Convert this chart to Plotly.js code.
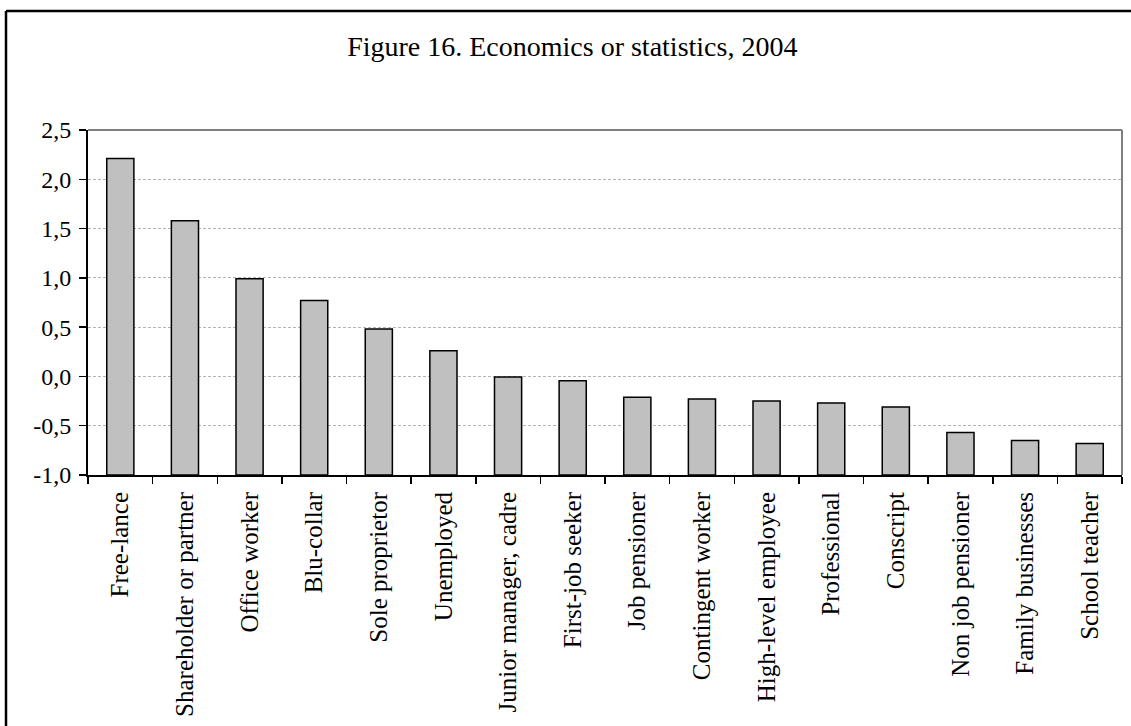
<!DOCTYPE html>
<html>
<head>
<meta charset="utf-8">
<script src="https://cdn.plot.ly/plotly-3.0.1.min.js"></script>
<style>
html, body { margin: 0; padding: 0; background: #ffffff; }
#chart { width: 1131px; height: 726px; }
</style>
</head>
<body>
<div id="chart"></div>
<script>
const categories = [
  "Free-lance", "Shareholder or partner", "Office worker", "Blu-collar",
  "Sole proprietor", "Unemployed", "Junior manager, cadre", "First-job seeker",
  "Job pensioner", "Contingent worker", "High-level employee", "Professional",
  "Conscript", "Non job pensioner", "Family businesses", "School teacher"
];
const values = [2.21, 1.58, 0.99, 0.77, 0.48, 0.26, -0.005, -0.045,
  -0.21, -0.23, -0.25, -0.27, -0.31, -0.57, -0.65, -0.68];
const axisMin = -1.0;
const yTickVals = [-1.0, -0.5, 0.0, 0.5, 1.0, 1.5, 2.0, 2.5];
const yTickText = ["-1,0", "-0,5", "0,0", "0,5", "1,0", "1,5", "2,0", "2,5"];
const titleText = "Figure 16. Economics or statistics, 2004";

const serif = "Liberation Serif, Times New Roman, serif";

const trace = {
  type: "bar",
  x: categories,
  base: axisMin,
  y: values.map(v => v - axisMin),
  customdata: values,
  hovertemplate: "%{x}: %{customdata}<extra></extra>",
  marker: { color: "#c0c0c0", line: { color: "#000000", width: 1.5 } }
};

const layout = {
  width: 1131,
  height: 726,
  margin: { l: 88, r: 9, t: 130, b: 251, pad: 0 },
  paper_bgcolor: "#ffffff",
  plot_bgcolor: "#ffffff",
  bargap: 0.58,
  showlegend: false,
  font: { family: serif, color: "#000000", size: 24 },
  title: {
    text: titleText,
    font: { family: serif, size: 28, color: "#000000" },
    x: 0.506, xref: "container", xanchor: "center",
    y: 1 - 46 / 726, yref: "container", yanchor: "middle"
  },
  xaxis: {
    type: "category",
    tickangle: -90,
    tickfont: { family: serif, size: 25, color: "#000000" },
    ticks: "outside",
    tickson: "boundaries",
    ticklen: 7,
    tickwidth: 1.5,
    tickcolor: "#000000",
    showline: true,
    linecolor: "#000000",
    linewidth: 2,
    showgrid: false,
    zeroline: false,
    ticklabelstandoff: 5
  },
  yaxis: {
    range: [-1.0, 2.5],
    tickvals: yTickVals,
    ticktext: yTickText,
    tickfont: { family: serif, size: 24, color: "#000000" },
    ticks: "outside",
    ticklen: 7,
    tickwidth: 1.5,
    tickcolor: "#000000",
    showline: true,
    linecolor: "#000000",
    linewidth: 2,
    showgrid: true,
    gridcolor: "#b4b4b4",
    griddash: "3px,2px",
    gridwidth: 1,
    zeroline: false,
    ticklabelstandoff: 3
  },
  shapes: [
    { type: "line", xref: "paper", yref: "paper", x0: 0, x1: 1, y0: 1, y1: 1,
      line: { color: "#808080", width: 2 } },
    { type: "line", xref: "paper", yref: "paper", x0: 1, x1: 1, y0: 0, y1: 1,
      line: { color: "#808080", width: 2 } },
    { type: "line", xref: "paper", yref: "paper",
      x0: (6 - 88) / 1034, x1: 1.05, y0: 1 + (130 - 11) / 345, y1: 1 + (130 - 11) / 345,
      line: { color: "#000000", width: 2.5 } },
    { type: "line", xref: "paper", yref: "paper",
      x0: (6 - 88) / 1034, x1: (6 - 88) / 1034, y0: -0.8, y1: 1 + (130 - 11) / 345,
      line: { color: "#000000", width: 2.5 } }
  ]
};

Plotly.newPlot("chart", [trace], layout, { displayModeBar: false, staticPlot: true });
</script>
</body>
</html>
